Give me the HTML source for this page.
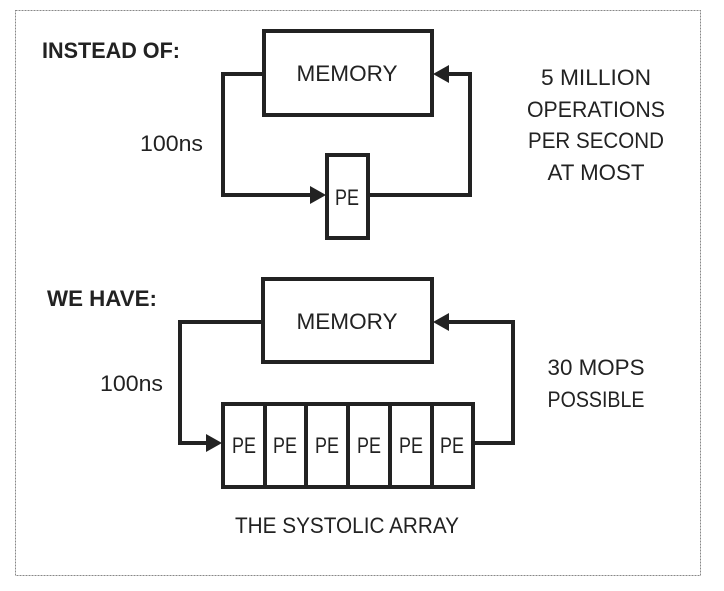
<!DOCTYPE html>
<html><head><style>html,body{margin:0;padding:0;background:#fff}</style></head><body>
<svg width="724" height="586" viewBox="0 0 724 586" xmlns="http://www.w3.org/2000/svg" font-family="Liberation Sans, sans-serif" fill="#222">
<rect x="15.5" y="10.5" width="685" height="565" fill="none" stroke="#888" stroke-width="1" stroke-dasharray="2,1"/>
<g fill="none" stroke="#222" stroke-width="4">
<rect x="264" y="31" width="168" height="84"/>
<rect x="327" y="155" width="41" height="83"/>
<path d="M264,74H223V195H314"/>
<path d="M368,195H470V74H446"/>
<rect x="263" y="279" width="169" height="83"/>
<rect x="223" y="404" width="250" height="83"/>
<path d="M265,404V487M306,404V487M348,404V487M390,404V487M432,404V487"/>
<path d="M263,322H180V443H210"/>
<path d="M473,443H513V322H446"/>
</g>
<g fill="#222">
<path d="M326,195L310,186V204Z"/>
<path d="M433,74L449,65V83Z"/>
<path d="M222,443L206,434V452Z"/>
<path d="M433,322L449,313V331Z"/>
</g>
<g font-size="22" lengthAdjust="spacingAndGlyphs">
<text x="42" y="58" font-weight="bold" textLength="138" lengthAdjust="spacingAndGlyphs">INSTEAD OF:</text>
<text x="347" y="81" text-anchor="middle" textLength="101" lengthAdjust="spacingAndGlyphs">MEMORY</text>
<text x="140" y="151" textLength="63" lengthAdjust="spacingAndGlyphs">100ns</text>
<text x="347" y="205" text-anchor="middle" textLength="24" lengthAdjust="spacingAndGlyphs">PE</text>
<text x="596" y="85" text-anchor="middle" textLength="110" lengthAdjust="spacingAndGlyphs">5 MILLION</text>
<text x="596" y="117" text-anchor="middle" textLength="138" lengthAdjust="spacingAndGlyphs">OPERATIONS</text>
<text x="596" y="148" text-anchor="middle" textLength="136" lengthAdjust="spacingAndGlyphs">PER SECOND</text>
<text x="596" y="180" text-anchor="middle" textLength="97" lengthAdjust="spacingAndGlyphs">AT MOST</text>
<text x="47" y="306" font-weight="bold" textLength="110" lengthAdjust="spacingAndGlyphs">WE HAVE:</text>
<text x="347" y="329" text-anchor="middle" textLength="101" lengthAdjust="spacingAndGlyphs">MEMORY</text>
<text x="100" y="391" textLength="63" lengthAdjust="spacingAndGlyphs">100ns</text>
<text x="596" y="375" text-anchor="middle" textLength="97" lengthAdjust="spacingAndGlyphs">30 MOPS</text>
<text x="596" y="407" text-anchor="middle" textLength="97" lengthAdjust="spacingAndGlyphs">POSSIBLE</text>
<text x="244" y="453" text-anchor="middle" textLength="24" lengthAdjust="spacingAndGlyphs">PE</text>
<text x="285" y="453" text-anchor="middle" textLength="24" lengthAdjust="spacingAndGlyphs">PE</text>
<text x="327" y="453" text-anchor="middle" textLength="24" lengthAdjust="spacingAndGlyphs">PE</text>
<text x="369" y="453" text-anchor="middle" textLength="24" lengthAdjust="spacingAndGlyphs">PE</text>
<text x="411" y="453" text-anchor="middle" textLength="24" lengthAdjust="spacingAndGlyphs">PE</text>
<text x="452" y="453" text-anchor="middle" textLength="24" lengthAdjust="spacingAndGlyphs">PE</text>
<text x="347" y="533" text-anchor="middle" textLength="224" lengthAdjust="spacingAndGlyphs">THE SYSTOLIC ARRAY</text>
</g>
</svg>
</body></html>
